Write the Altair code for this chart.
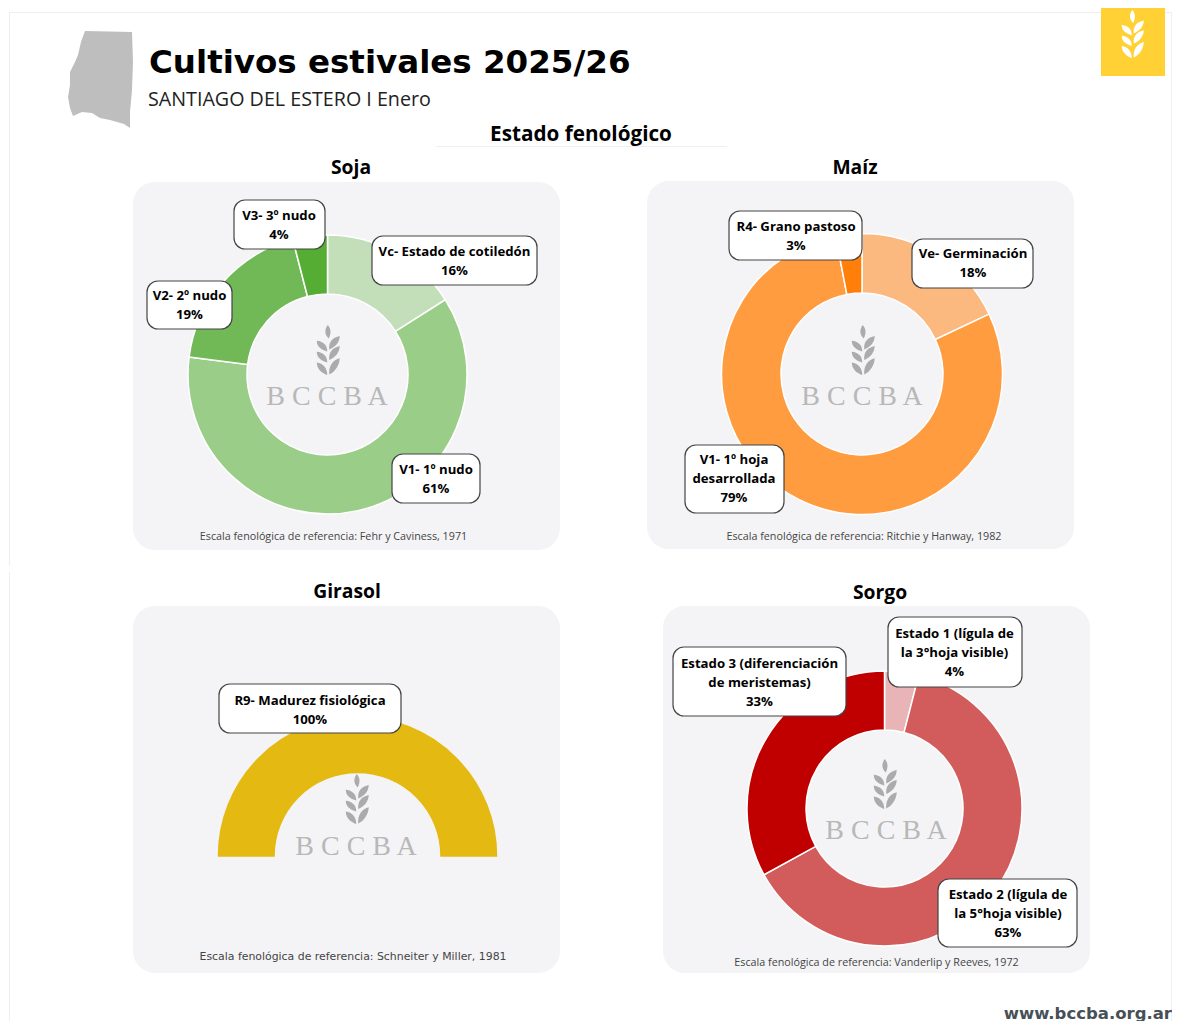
import math
import altair as alt
import pandas as pd

# ---- values ----
soja_labels = ["Vc- Estado de cotiledón", "V1- 1º nudo", "V2- 2º nudo", "V3- 3º nudo"]
soja_values = [16, 61, 19, 4]
maiz_labels = ["Ve- Germinación", "V1- 1º hoja desarrollada", "R4- Grano pastoso"]
maiz_values = [18, 79, 3]
girasol_labels = ["R9- Madurez fisiológica"]
girasol_values = [100]
sorgo_labels = ["Estado 1", "Estado 2", "Estado 3"]
sorgo_values = [4, 63, 33]

soja_colors = ["#C3DFB9", "#9ACE88", "#70B956", "#55AE33"]
maiz_colors = ["#FBB97F", "#FF9C40", "#FF7F0A"]
girasol_colors = ["#E4B912"]
sorgo_colors = ["#E8B4B6", "#D25B5C", "#C00000"]

FONT = "Open Sans"
WIDE = "DejaVu Sans"
W, H = 1164, 1013
px_x = alt.Scale(domain=[8, 8 + W], range=[0, W])
px_y = alt.Scale(domain=[8, 8 + H], range=[0, H])
X = alt.X("x:Q", scale=px_x, axis=None)
Y = alt.Y("y:Q", scale=px_y, axis=None)
X2 = alt.X2("x2:Q")
Y2 = alt.Y2("y2:Q")


def rects(rows, **mark):
    df = pd.DataFrame(rows, columns=["x", "x2", "y", "y2"])
    return alt.Chart(df).mark_rect(**mark).encode(x=X, x2=X2, y=Y, y2=Y2)


def texts(rows, size, weight="normal", color="#000000", align="center", font=FONT):
    df = pd.DataFrame(rows, columns=["x", "y", "t"])
    return alt.Chart(df).mark_text(
        fontSize=size, fontWeight=weight, color=color, align=align, baseline="middle", font=font
    ).encode(x=X, y=Y, text="t:N")


def symbols(rows, path, size, color):
    df = pd.DataFrame(rows, columns=["x", "y"])
    return alt.Chart(df).mark_point(
        shape=path, size=size, filled=True, fill=color, opacity=1, strokeWidth=0
    ).encode(x=X, y=Y)


def donut(labels, values, colors, cx, cy, R, r, start=0.0, end=2 * math.pi, stroke="#FFFFFF"):
    df = pd.DataFrame({"label": labels, "value": values, "order": list(range(len(labels)))})
    return alt.Chart(df).mark_arc(
        outerRadius=R, innerRadius=r, stroke=stroke, strokeWidth=1.5
    ).encode(
        theta=alt.Theta("value:Q", stack=True, scale=alt.Scale(domain=[0, 100], range=[start, end])),
        color=alt.Color("label:N", scale=alt.Scale(domain=labels, range=colors), legend=None),
        order=alt.Order("order:Q"),
        x=alt.value(cx - 8),
        y=alt.value(cy - 8),
    )


def wheat_path():
    parts = ["M-0.01,-1C0.13,-0.85 0.13,-0.66 0.03,-0.46C-0.13,-0.60 -0.15,-0.82 -0.01,-1Z"]
    for tip, base in [(-0.56, -0.02), (-0.16, 0.40), (0.33, 0.98)]:
        parts.append(
            f"M0.05,{base:.2f}C0.02,{base-0.34:.2f} 0.20,{tip+0.06:.2f} 0.47,{tip:.2f}"
            f"C0.46,{tip+0.28:.2f} 0.28,{base-0.10:.2f} 0.05,{base:.2f}Z"
        )
    for tip, base in [(-0.37, 0.06), (0.07, 0.50), (0.50, 1.0)]:
        parts.append(
            f"M-0.03,{base:.2f}C-0.02,{base-0.26:.2f} -0.20,{tip+0.02:.2f} -0.45,{tip:.2f}"
            f"C-0.44,{tip+0.26:.2f} -0.26,{base-0.08:.2f} -0.03,{base:.2f}Z"
        )
    return "".join(parts)


WHEAT = wheat_path()
province_outline = [(85, 31), (132, 32), (133, 62), (132, 90), (130, 112), (130, 128), (124, 124),
                    (110, 120), (100, 118), (92, 113), (82, 112), (73, 116), (70, 108), (68, 97),
                    (70, 85), (70, 72), (75, 62), (78, 55), (81, 42)]
PROVINCE = "M" + "L".join(f"{(a-100)/49:.3f},{(b-79)/49:.3f}" for a, b in province_outline) + "Z"

frame = rects([(9, 10, 12, 566), (9, 10, 572, 1021), (1171, 1172, 12, 1021), (9, 1172, 12, 13)], fill="#EEEEF3")
rule_head = rects([(436, 727, 146, 147)], fill="#EEEEF3")
tile = rects([(1101, 1165, 8, 76)], fill="#FFD135")
panels = rects(
    [(133, 560, 182, 550), (647, 1074, 181, 549), (133, 560, 606, 973), (663, 1090, 606, 973)],
    fill="#F4F4F6", cornerRadius=22,
)
boxes = rects(
    [
        (234, 325, 200, 249), (372, 537, 236, 285), (147, 232, 281, 329), (392, 480, 454, 503),
        (729, 862, 211, 260), (912, 1033, 239, 288), (685, 784, 445, 513),
        (219, 401, 684, 733),
        (888, 1022, 617, 687), (673, 846, 647, 716), (938, 1077, 879, 947),
    ],
    fill="#FFFFFF", stroke="#444444", strokeWidth=1.2, cornerRadius=11,
)

label_rows = [
    (279, 216, "V3- 3º nudo"), (279, 235, "4%"),
    (454.5, 252, "Vc- Estado de cotiledón"), (454.5, 271, "16%"),
    (189.5, 296, "V2- 2º nudo"), (189.5, 315, "19%"),
    (436, 469.5, "V1- 1º nudo"), (436, 489, "61%"),
    (796, 227, "R4- Grano pastoso"), (796, 246, "3%"),
    (973, 254, "Ve- Germinación"), (973, 273, "18%"),
    (734, 460, "V1- 1º hoja"), (734, 479, "desarrollada"), (734, 498, "79%"),
    (310, 701, "R9- Madurez fisiológica"), (310, 720, "100%"),
    (954.5, 633.5, "Estado 1 (lígula de"), (954.5, 652.5, "la 3°hoja visible)"), (954.5, 672, "4%"),
    (759.5, 663.5, "Estado 3 (diferenciación"), (759.5, 682.5, "de meristemas)"), (759.5, 702, "33%"),
    (1008, 894.5, "Estado 2 (lígula de"), (1008, 913.5, "la 5°hoja visible)"), (1008, 933, "63%"),
]

chart = alt.layer(
    frame,
    rule_head,
    tile,
    symbols([(1132.5, 34)], WHEAT, 48 ** 2, "#FFFFFF"),
    symbols([(100, 79)], PROVINCE, 98 ** 2, "#BEBEBE"),
    panels,
    symbols([(328, 350), (863, 350), (357, 799), (885, 784)], WHEAT, 50 ** 2, "#ABABAB"),
    texts([(327, 397, "B C C B A"), (862, 397, "B C C B A"), (356, 847, "B C C B A"), (886, 831, "B C C B A")],
          28, color="#B8B8B8", font="Liberation Serif"),
    donut(soja_labels, soja_values, soja_colors, 327.5, 374.5, 139.5, 80.5),
    donut(maiz_labels, maiz_values, maiz_colors, 862, 374, 140.5, 81),
    donut(girasol_labels, girasol_values, girasol_colors, 357.5, 856, 139, 83.5,
          start=-math.pi / 2, end=math.pi / 2, stroke="#E4B912"),
    donut(sorgo_labels, sorgo_values, sorgo_colors, 884.5, 808.5, 137.5, 78.5),
    boxes,
    texts(label_rows, 13.2, "bold"),
    texts([(149, 62.5, "Cultivos estivales 2025/26")], 32.5, "bold", align="left", font=WIDE),
    texts([(148, 100, "SANTIAGO DEL ESTERO I Enero")], 19.7, color="#222222", align="left"),
    texts([(581, 135, "Estado fenológico")], 20.7, "bold"),
    texts([(351, 168, "Soja"), (855, 168, "Maíz"), (347, 592, "Girasol"), (880, 593, "Sorgo")], 19.3, "bold"),
    texts(
        [
            (333.5, 537, "Escala fenológica de referencia: Fehr y Caviness, 1971"),
            (864, 537, "Escala fenológica de referencia: Ritchie y Hanway, 1982"),
            (876.5, 963, "Escala fenológica de referencia: Vanderlip y Reeves, 1972"),
        ],
        10.75, color="#444444",
    ),
    texts([(353, 957, "Escala fenológica de referencia: Schneiter y Miller, 1981")], 10.9, color="#444444", font=WIDE),
    texts([(1172, 1014, "www.bccba.org.ar")], 16.5, "bold", color="#474F57", align="right", font=WIDE),
).resolve_scale(theta="independent", color="independent").properties(
    width=W, height=H, padding=0,
).configure_view(stroke=None)

chart.save("out.html", embed_options={"renderer": "svg", "actions": False})
